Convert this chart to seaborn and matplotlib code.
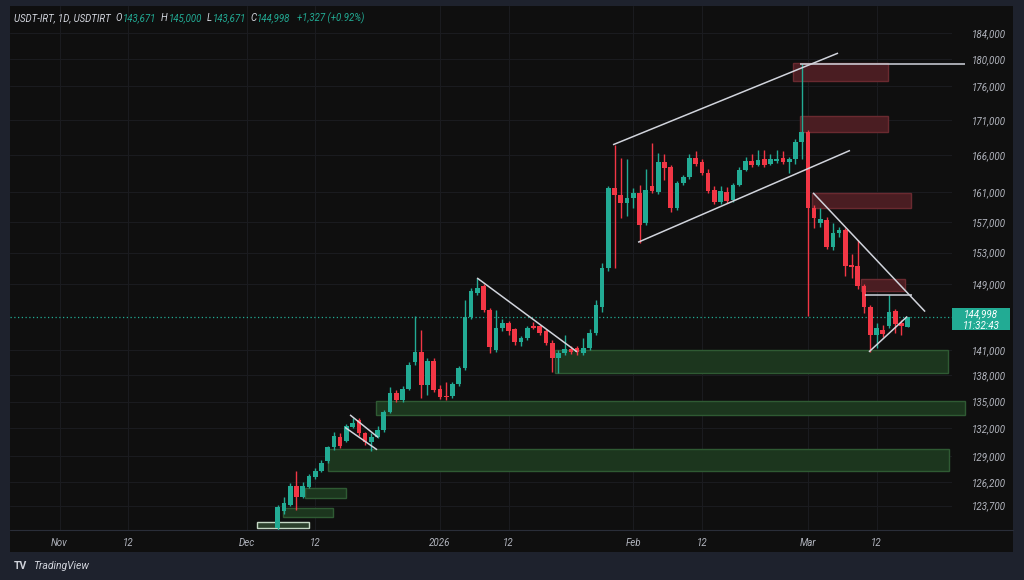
import numpy as np
import pandas as pd
import seaborn as sns
import matplotlib.pyplot as plt
import matplotlib.dates as mdates
from matplotlib.patches import Rectangle
from matplotlib.ticker import FixedLocator, FuncFormatter, NullLocator
from matplotlib.transforms import blended_transform_factory

sns.set_theme(style='dark')
plt.rcParams['font.family'] = ['Roboto', 'DejaVu Sans']

# Daily candles USDT-IRT, first bar on 2025-12-06
first_day = '2025-12-06'
opens = [121400, 123100, 123800, 125800, 124650, 125700, 126700, 127340, 128400, 129900,
         131100, 130650, 132100, 132900, 131450, 130450, 131000, 131800, 133850, 136000,
         135200, 136450, 139550, 140760, 136900, 139700, 136450, 135670, 135670, 137000,
         138840, 145000, 147950, 148750, 145800, 141000, 143650, 144250, 143430, 141950,
         142460, 143800, 143800, 143200, 141850, 140050, 140640, 141120, 141240, 140640,
         141240, 143060, 146200, 151050, 161550, 160600, 159550, 160200, 160870, 156870,
         161800, 161000, 165050, 164330, 158870, 162250, 163080, 165580, 165030, 163640,
         161280, 159670, 161000, 159930, 161950, 163920, 165170, 164610, 165440, 164750,
         165170, 165580, 165030, 165440, 167950, 169330, 158870, 156870, 157270, 153670,
         155530, 155930, 151450, 151320, 148760, 146180, 142820, 143310, 143790, 145710,
         144270, 143671]
highs = [123800, 124600, 126100, 127350, 126200, 127000, 127650, 128500, 130100, 131550,
         131450, 132450, 133150, 133150, 131650, 131450, 132250, 134100, 136650, 136350,
         136800, 139550, 145120, 143400, 140050, 140050, 136900, 137220, 137220, 139080,
         147000, 148550, 149770, 149000, 146050, 145800, 144650, 144500, 143650, 142700,
         143900, 144390, 144030, 143430, 142220, 141000, 142820, 141480, 141480, 142460,
         143430, 147000, 151700, 161800, 167500, 165700, 165450, 161530, 161950, 164060,
         167800, 166400, 166140, 164610, 162530, 163360, 166140, 166560, 165440, 164060,
         161800, 161800, 161670, 162250, 164330, 165720, 166140, 166830, 166830, 166140,
         166830, 166560, 165720, 168240, 179300, 169610, 159270, 158870, 157670, 156870,
         156330, 156200, 152870, 154600, 149000, 146410, 144270, 143910, 147600, 145940,
         144520, 145000]
lows = [121200, 122800, 123700, 123300, 124450, 125500, 126500, 127200, 128200, 129650,
        129800, 130550, 132000, 131200, 130200, 129550, 130900, 131550, 133750, 135000,
        135000, 136350, 139200, 135450, 135800, 136100, 135330, 135220, 135450, 136780,
        138600, 144750, 147700, 145600, 140650, 140750, 143200, 142800, 141600, 141500,
        142220, 143430, 142820, 141600, 138350, 138240, 140400, 140520, 140400, 140400,
        141000, 142820, 145600, 150700, 151050, 157550, 157800, 158870, 154200, 156600,
        160870, 160730, 162650, 158330, 158600, 161950, 162810, 164470, 163360, 160870,
        159400, 159400, 159530, 159670, 161800, 163780, 164330, 164470, 164330, 164610,
        164890, 164750, 163640, 164750, 165440, 145100, 156200, 156330, 153400, 153270,
        155000, 150030, 149770, 148400, 145470, 140760, 141240, 142580, 143550, 143060,
        142820, 143671]
closes = [123600, 124000, 125800, 124650, 125800, 126800, 127340, 128200, 129900, 131200,
          130100, 132250, 132600, 131450, 130450, 131100, 131800, 133850, 136000, 135200,
          136450, 139200, 140760, 136900, 139700, 136350, 135550, 135560, 137000, 138840,
          145000, 148200, 148550, 145800, 141350, 143650, 144250, 143200, 141950, 142460,
          143650, 143650, 143050, 141850, 140050, 140640, 141120, 140760, 140760, 141240,
          143060, 146400, 151050, 161550, 160600, 159550, 160200, 160870, 156600, 161280,
          161130, 165050, 164200, 158870, 162250, 163080, 165580, 164750, 163640, 161140,
          159670, 161140, 159800, 161950, 163920, 165170, 164610, 165310, 164610, 165440,
          165440, 165030, 165440, 167950, 169330, 158870, 157530, 157400, 153670, 155530,
          155930, 151320, 151200, 148760, 146180, 142820, 143550, 142940, 145590, 144150,
          143790, 144998]
last_price = 144998

# supply / demand zones
zone_start = ['2025-12-02 16:00', '2025-12-06 20:00', '2025-12-10 09:00', '2025-12-14 01:30',
              '2025-12-21 18:00', '2026-01-19 11:00', '2026-02-26 15:00', '2026-02-27 18:00',
              '2026-03-01 16:00', '2026-03-09 12:30']
zone_end = ['2025-12-11 00:30', '2025-12-14 21:00', '2025-12-16 23:00', '2026-03-23 15:00',
            '2026-03-26 04:30', '2026-03-23 11:00', '2026-03-13 20:00', '2026-03-13 20:00',
            '2026-03-17 13:00', '2026-03-16 14:00']
zone_low = [121400, 122550, 124530, 127340, 133500, 138240, 176770, 169330, 158870, 148170]
zone_high = [122000, 123500, 125570, 129780, 135110, 141000, 179380, 171570, 160870, 149650]
zone_kind = ['pale', 'demand', 'demand', 'demand', 'demand', 'demand',
             'supply', 'supply', 'supply', 'supply']

# drawn trend lines
line_t0 = ['2026-01-28 18:00', '2026-02-01 18:30', '2026-02-27 18:00', '2026-03-01 20:00',
           '2026-03-10 03:30', '2026-03-10 19:00', '2026-01-06 23:00', '2025-12-17 14:00',
           '2025-12-16 19:00']
line_t1 = ['2026-03-05 20:00', '2026-03-07 18:00', '2026-03-26 04:30', '2026-03-19 19:00',
           '2026-03-17 17:00', '2026-03-16 22:00', '2026-01-22 23:30', '2025-12-22 02:00',
           '2025-12-21 22:00']
line_p0 = [167500, 154330, 179300, 160870, 147600, 140760, 149770, 133500, 132100]
line_p1 = [180900, 166700, 179300, 145600, 147600, 145000, 140760, 131000, 129650]

price_ticks = [184000, 180000, 176000, 171000, 166000, 161000, 157000, 153000, 149000,
               141000, 138000, 135000, 132000, 129000, 126200, 123700]
date_ticks = ['2025-11-01', '2025-11-12', '2025-12-01', '2025-12-12', '2026-01-01',
              '2026-01-12', '2026-02-01', '2026-02-12', '2026-03-01', '2026-03-12']
date_labels = ['Nov', '12', 'Dec', '12', '2026', '12', 'Feb', '12', 'Mar', '12']

green = '#22ab94'
red = '#f23645'
outer_bg = '#1e222d'
chart_bg = '#0f0f0f'
grid_c = '#1a1b1f'
text_c = '#b2b5be'

df = pd.DataFrame({'date': pd.date_range(first_day, periods=len(opens), freq='D'),
                   'open': opens, 'high': highs, 'low': lows, 'close': closes})

fig = plt.figure(figsize=(10.24, 5.8), dpi=100, facecolor=outer_bg)
W, H = 1024, 580
# black chart panel incl. price and time scales
fig.add_artist(Rectangle((10 / W, 1 - 552 / H), 1003 / W, 546 / H, transform=fig.transFigure,
                         facecolor=chart_bg, edgecolor='none', zorder=0))
ax = fig.add_axes([10 / W, 1 - 530 / H, 942 / W, 524 / H])
ax.set_facecolor(chart_bg)
for s in ax.spines.values():
    s.set_visible(False)

ax.set_yscale('log')
ax.set_ylim(121200, 188200)
ax.set_xlim(mdates.date2num(pd.Timestamp('2025-10-24 01:30')),
            mdates.date2num(pd.Timestamp('2026-03-24 02:30')))

ax.yaxis.set_major_locator(FixedLocator(price_ticks))
ax.yaxis.set_minor_locator(NullLocator())
ax.yaxis.set_major_formatter(FuncFormatter(lambda v, p: f'{v:,.0f}'))
ax.yaxis.tick_right()
ax.set_xticks(mdates.date2num(pd.to_datetime(date_ticks)))
ax.set_xticklabels(date_labels)
ax.tick_params(axis='both', length=0, labelcolor=text_c, labelsize=7)
ax.tick_params(axis='y', pad=14)
ax.tick_params(axis='x', pad=6)
for lab in ax.get_xticklabels() + ax.get_yticklabels():
    lab.set_fontstyle('italic')
ax.grid(True, color=grid_c, lw=0.8)
ax.set_axisbelow(True)

# zones
zone_style = {'demand': ('#1c361e', '#2f5a33'),
              'supply': ('#4a1d22', '#6a2a30'),
              'pale': ('#2c402c', '#c5d8c5')}
for t0, t1, lo, hi, kind in zip(zone_start, zone_end, zone_low, zone_high, zone_kind):
    x0 = mdates.date2num(pd.Timestamp(t0))
    x1 = mdates.date2num(pd.Timestamp(t1))
    fc, ec = zone_style[kind]
    ax.add_patch(Rectangle((x0, lo), x1 - x0, hi - lo, facecolor=fc, edgecolor=ec,
                           lw=1, zorder=2, clip_on=False))

# candles
x = mdates.date2num(df['date'])
up = df['close'] >= df['open']
colors = np.where(up, green, red)
ax.vlines(x, df['low'], df['high'], colors=colors, lw=1, zorder=3)
body_lo = np.minimum(df['open'], df['close'])
body_h = np.maximum((df['close'] - df['open']).abs(), 90)
ax.bar(x, body_h, bottom=body_lo, width=0.75, color=colors, linewidth=0, zorder=4)

# trend lines
for t0, t1, p0, p1 in zip(line_t0, line_t1, line_p0, line_p1):
    ax.plot(mdates.date2num(pd.to_datetime([t0, t1])), [p0, p1], color='#d1d4dc',
            lw=1.1, zorder=5, clip_on=False, solid_capstyle='butt')

# last price line and label
ax.axhline(last_price, color=green, lw=0.9, ls=(0, (1, 2)), zorder=3)
tr = blended_transform_factory(ax.transAxes, ax.transData)
ax.add_patch(Rectangle((1.0, 143310), 0.0616, 146060 - 143310, transform=tr,
                       facecolor=green, edgecolor='none', clip_on=False, zorder=6))
ax.text(1.031, 145300, f'{last_price:,}', transform=tr, color='white', fontsize=7,
        ha='center', va='center', style='italic', clip_on=False, zorder=7)
ax.text(1.031, 143800, '11:32:43', transform=tr, color='white', fontsize=7,
        ha='center', va='center', style='italic', clip_on=False, zorder=7)

# scale separator
fig.add_artist(plt.Line2D([10 / W, 1013 / W], [1 - 530 / H] * 2, color='#2a2e39', lw=0.8))

# legend header
hy = 1 - 18 / H
fig.text(14 / W, hy, 'USDT-IRT, 1D, USDTIRT', color='#d1d4dc', fontsize=6.9,
         style='italic', va='center')
parts = [(115, 'O', '#d1d4dc'), (122.5, '143,671', green), (161, 'H', '#d1d4dc'),
         (169, '145,000', green), (206.5, 'L', '#d1d4dc'), (213, '143,671', green),
         (250, 'C', '#d1d4dc'), (257, '144,998', green), (297, '+1,327 (+0.92%)', green)]
for px, s, c in parts:
    fig.text(px / W, hy, s, color=c, fontsize=6.9, style='italic', va='center')

# footer logo
fig.text(14 / W, 1 - 566 / H, 'TV', color='#d1d4dc', fontsize=7.5, fontweight='bold',
         va='center')
fig.text(33 / W, 1 - 566 / H, 'TradingView', color='#d1d4dc', fontsize=7.5,
         style='italic', va='center')

fig.savefig('out.png', dpi=100, facecolor=outer_bg)
